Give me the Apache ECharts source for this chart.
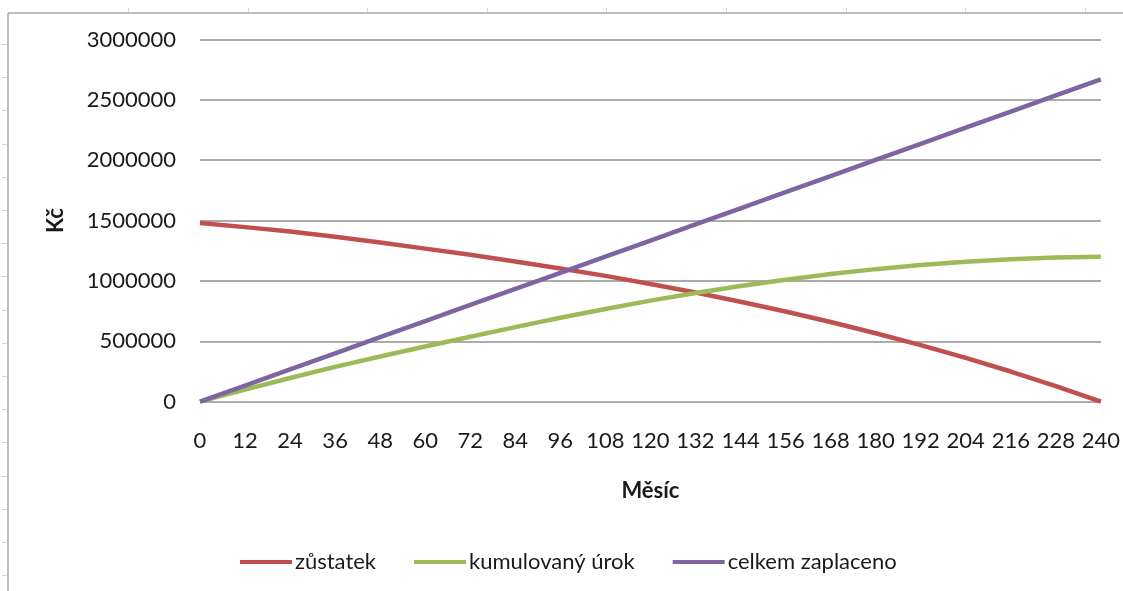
<!DOCTYPE html>
<html>
<head>
<meta charset="utf-8">
<script src="https://cdn.jsdelivr.net/npm/echarts@6/dist/echarts.min.js"></script>
<style>
  html, body { margin: 0; padding: 0; background: #ffffff; }
  #chart { width: 1123px; height: 591px; }
</style>
</head>
<body>
<div id="chart"></div>
<script>
// Month values (x) and series
var months = [0, 12, 24, 36, 48, 60, 72, 84, 96, 108, 120, 132, 144, 156, 168, 180, 192, 204, 216, 228, 240];
var zustatek = [1480000, 1446000, 1409000, 1367000, 1319000, 1268000, 1217000, 1162000, 1104000, 1042000, 975000, 904000, 828000, 747000, 660000, 567000, 468000, 363000, 250000, 129000, 0];
var kumulovanyUrok = [0, 100000, 196000, 288000, 374000, 457000, 538000, 618000, 695000, 768000, 837000, 900000, 958000, 1010000, 1057000, 1098000, 1132000, 1160000, 1180000, 1194000, 1200000];
var celkemZaplaceno = [0, 133500, 267000, 400500, 534000, 667500, 801000, 934500, 1068000, 1201500, 1335000, 1468500, 1602000, 1735500, 1869000, 2002500, 2136000, 2269500, 2403000, 2536500, 2670000];
var seriesNames = ['zůstatek', 'kumulovaný úrok', 'celkem zaplaceno'];
var xAxisTitle = 'Měsíc';
var yAxisTitle = 'Kč';

function pairs(ys) {
  return months.map(function (m, i) { return [m, ys[i]]; });
}

var FONT = 'Lato, "Open Sans", sans-serif';

// decorative sheet frame
var deco = [
  { type: 'line', shape: { x1: 8, y1: 13, x2: 1123, y2: 13 }, style: { stroke: '#a6a6a6', lineWidth: 1.5 } },
  { type: 'line', shape: { x1: 8, y1: 13, x2: 8, y2: 591 }, style: { stroke: '#a6a6a6', lineWidth: 1.5 } }
];
for (var ty = 44; ty < 591; ty += 33.2) {
  deco.push({ type: 'line', shape: { x1: 2, y1: Math.round(ty) + 0.5, x2: 7, y2: Math.round(ty) + 0.5 }, style: { stroke: '#c9d5e8', lineWidth: 1 } });
}
for (var tx = 128; tx < 1123; tx += 119.6) {
  deco.push({ type: 'line', shape: { x1: Math.round(tx) + 0.5, y1: 8, x2: Math.round(tx) + 0.5, y2: 12 }, style: { stroke: '#c9d5e8', lineWidth: 1 } });
}

var chart = echarts.init(document.getElementById('chart'), null, { renderer: 'canvas' });
chart.setOption({
  animation: false,
  backgroundColor: '#ffffff',
  graphic: deco,
  grid: { left: 200, right: 21, top: 39.5, bottom: 189.3, containLabel: false },
  legend: {
    data: seriesNames,
    left: 235,
    top: 546,
    icon: 'rect',
    itemWidth: 52,
    itemHeight: 4,
    itemGap: 38,
    textStyle: { fontFamily: FONT, fontSize: 22, color: '#1a1a1a', padding: [0, 0, 0, -2] }
  },
  xAxis: {
    type: 'value',
    min: 0,
    max: 240,
    interval: 12,
    name: xAxisTitle,
    nameLocation: 'middle',
    nameGap: 78,
    nameTextStyle: { fontFamily: FONT, fontSize: 22, fontWeight: 'bold', color: '#1a1a1a' },
    axisLine: { show: false },
    axisTick: { show: false },
    splitLine: { show: false },
    axisLabel: { fontFamily: FONT, fontSize: 22, color: '#1a1a1a', margin: 28, hideOverlap: false, showMinLabel: true, showMaxLabel: true }
  },
  yAxis: {
    type: 'value',
    min: 0,
    max: 3000000,
    interval: 500000,
    name: yAxisTitle,
    nameLocation: 'middle',
    nameGap: 133,
    nameRotate: 90,
    nameTextStyle: { fontFamily: FONT, fontSize: 22, fontWeight: 'bold', color: '#1a1a1a' },
    axisLine: { show: false },
    axisTick: { show: false },
    splitLine: { show: true, lineStyle: { color: '#8f8f8f', width: 1.5 } },
    axisLabel: { fontFamily: FONT, fontSize: 22, color: '#1a1a1a', margin: 24, formatter: function (v) { return String(v); } }
  },
  series: [
    { name: seriesNames[0], type: 'line', data: pairs(zustatek), showSymbol: false, symbol: 'none', lineStyle: { color: '#C0504D', width: 4.5 }, itemStyle: { color: '#C0504D' } },
    { name: seriesNames[1], type: 'line', data: pairs(kumulovanyUrok), showSymbol: false, symbol: 'none', lineStyle: { color: '#9BBB59', width: 4.5 }, itemStyle: { color: '#9BBB59' } },
    { name: seriesNames[2], type: 'line', data: pairs(celkemZaplaceno), showSymbol: false, symbol: 'none', lineStyle: { color: '#8064A2', width: 4.5 }, itemStyle: { color: '#8064A2' } }
  ]
});
</script>
</body>
</html>
